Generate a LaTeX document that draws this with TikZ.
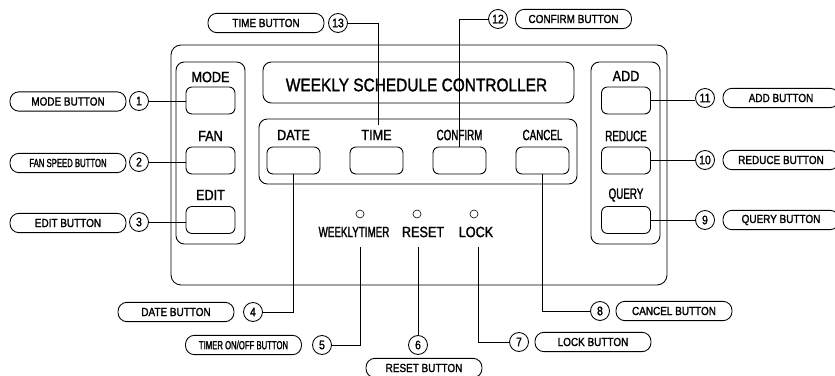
\documentclass[tikz,border=0pt]{standalone}
\usepackage{fontspec}
\newfontfamily\cadfont[FakeStretch=0.85,FakeBold=1.5]{Liberation Sans}
\newfontfamily\cadnarrow[FakeStretch=0.66,FakeBold=1.5]{Liberation Sans}
\usetikzlibrary{positioning,calc}

\begin{document}
\begin{tikzpicture}[
      x=0.03cm,y=-0.03cm,line width=0.75pt,
      btn/.style={rectangle,draw,rounded corners=0.18cm,
                  minimum width=1.59cm,minimum height=0.81cm,inner sep=0pt},
      sidebtn/.style={btn,minimum width=1.47cm},
      panel/.style={draw,rounded corners=0.25cm},
      pill/.style={rectangle,draw,rounded corners=0.27cm,
                   minimum width=3.48cm,minimum height=0.58cm,inner sep=0pt,
                   font=\cadfont\fontsize{10}{12}\selectfont},
      smallpill/.style={pill,font=\cadnarrow\fontsize{10}{12}\selectfont},
      num/.style={circle,draw,minimum size=0.57cm,inner sep=0pt,
                  font=\cadfont\fontsize{10.5}{12}\selectfont},
      key/.style={font=\cadfont\fontsize{12.7}{15}\selectfont,inner sep=1pt},
      narrowkey/.style={font=\cadnarrow\fontsize{12.7}{15}\selectfont,inner sep=1pt},
      led/.style={circle,draw,minimum size=0.24cm,inner sep=0pt,line width=0.5pt}
    ]
      \useasboundingbox (0,0) rectangle (835,376);

      % housing and panels
      \draw[panel,rounded corners=0.3cm] (171,45) rectangle (667,285);
      \draw[panel] (176,62) rectangle (245,244);
      \draw[panel] (591,62) rectangle (660,244);
      \draw[panel] (263,62) rectangle (574,103);
      \draw[panel] (259,119) rectangle (577,184);
      \node[font=\cadfont\fontsize{15.5}{18}\selectfont] (title) at (416.5,85) {WEEKLY SCHEDULE CONTROLLER};

      % left column
      \node[key] (model) at (210.5,77) {MODE};
      \node[sidebtn] (modeb) at (210.5,100.5) {};
      \node[key] (fanl) at (210.5,136) {FAN};
      \node[sidebtn] (fanb) at (210.5,160.5) {};
      \node[key] (editl) at (210.5,195) {EDIT};
      \node[sidebtn] (editb) at (210.5,220) {};

      % right column
      \node[key] (addl) at (626,76) {ADD};
      \node[sidebtn] (addb) at (626,100.5) {};
      \node[narrowkey] (redl) at (626,136) {REDUCE};
      \node[sidebtn] (redb) at (626,160.5) {};
      \node[narrowkey] (queryl) at (626,195) {QUERY};
      \node[sidebtn] (queryb) at (626,220) {};

      % middle row
      \node[key] (datel) at (293.5,135) {DATE};
      \node[btn] (dateb) at (293.5,160.5) {};
      \node[key] (timel) at (376.5,135) {TIME};
      \node[btn] (timeb) at (376.5,160.5) {};
      \node[narrowkey] (confl) at (459.5,135) {CONFIRM};
      \node[btn] (confb) at (459.5,160.5) {};
      \node[narrowkey] (cancl) at (542.5,135) {CANCEL};
      \node[btn] (cancb) at (542.5,160.5) {};

      % indicators
      \node[led] (ledwt) at (360,214) {};
      \node[led] (ledrs) at (417,214) {};
      \node[led] (ledlk) at (474,214) {};
      \node[narrowkey] (wtl) at (354,232) {WEEKLYTIMER};
      \node[key] (rsl) at (423,232) {RESET};
      \node[key] (lkl) at (476,232) {LOCK};
      \coordinate (wtpin) at (360,247);
      \coordinate (rspin) at (418,247);
      \coordinate (lkpin) at (478,247);
      \coordinate (timepin) at (378,125);

      % callouts
      \node[pill] (modep) at (68,101.5) {MODE BUTTON};
      \node[num] (n1) at (139,101) {1};
      \node[smallpill] (fanp) at (68,163) {FAN SPEED BUTTON};
      \node[num] (n2) at (139,162) {2};
      \node[pill] (editp) at (68,223) {EDIT BUTTON};
      \node[num] (n3) at (139,222) {3};
      \node[pill] (datep) at (176,312) {DATE BUTTON};
      \node[num] (n4) at (253,312) {4};
      \node[smallpill] (timerp) at (243.5,345) {TIMER ON/OFF BUTTON};
      \node[num] (n5) at (322,345) {5};
      \node[num] (n6) at (418,345) {6};
      \node[pill] (resetp) at (424,368) {RESET BUTTON};
      \node[num] (n7) at (519,342) {7};
      \node[pill] (lockp) at (593,342) {LOCK BUTTON};
      \node[num] (n8) at (600,311) {8};
      \node[pill] (cancp) at (674,311) {CANCEL BUTTON};
      \node[num] (n9) at (705,220) {9};
      \node[pill] (queryp) at (781,220) {QUERY BUTTON};
      \node[num] (n10) at (705,160) {10};
      \node[pill] (redp) at (781,160) {REDUCE BUTTON};
      \node[num] (n11) at (705,98) {11};
      \node[pill] (addp) at (781,98) {ADD BUTTON};
      \node[num] (n12) at (498,19) {12};
      \node[pill] (confp) at (573.5,19) {CONFIRM BUTTON};
      \node[num] (n13) at (338,23) {13};
      \node[pill] (timep) at (266,23) {TIME BUTTON};

      \draw (n1.east) -- (n1.east -| modeb.west);
      \draw (n2.east) -- (n2.east -| fanb.west);
      \draw (n3.east) -- (n3.east -| editb.west);
      \draw (dateb.south) |- (n4.east);
      \draw (wtpin) |- (n5.east);
      \draw (rspin) -- (n6.north);
      \draw (lkpin) |- (n7.west);
      \draw (cancb.south) |- (n8.west);
      \draw (queryb.east) -- (queryb.east -| n9.west);
      \draw (redb.east) -- (redb.east -| n10.west);
      \draw (addb.east) -- (addb.east -| n11.west);
      \draw (n12.west) -| (confb.north);
      \draw (n13.east) -| (timepin);
    \end{tikzpicture}
\end{document}
